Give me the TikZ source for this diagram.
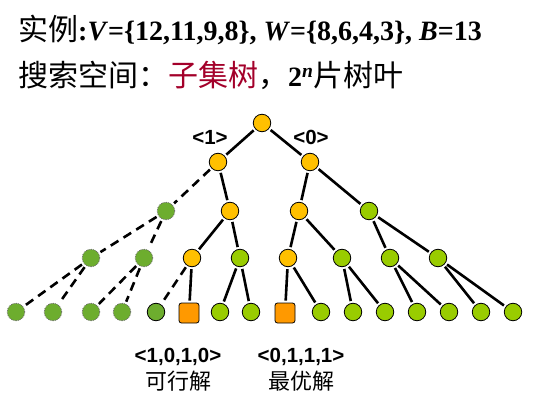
\documentclass[tikz,border=0pt]{standalone}
\usepackage{fontspec}
\setmainfont{Liberation Serif}
\setsansfont{Liberation Sans}
\newfontfamily\cjk{Noto Sans CJK SC}
\definecolor{nodeY}{HTML}{FFC000}
\definecolor{nodeG}{HTML}{99CC00}
\definecolor{nodeD}{HTML}{6DAD2E}
\definecolor{nodeO}{HTML}{FF9900}
\definecolor{cred}{HTML}{A3002A}
\begin{document}
\begin{tikzpicture}[x=1pt,y=-1pt,
  base/.style={circle, draw=black, line width=0.8pt, minimum size=17.5pt, inner sep=0pt},
  yn/.style={base, fill=nodeY},
  gn/.style={base, fill=nodeG},
  dn/.style={base, fill=nodeD, draw=black!60, densely dotted},
  dk/.style={base, fill=nodeD},
  sq/.style={rectangle, rounded corners=2.5pt, draw=black, line width=0.8pt, fill=nodeO, minimum size=20pt, inner sep=0pt},
  edge/.style={line width=2.6pt, shorten <=2pt, shorten >=2pt},
  dedge/.style={edge, dash pattern=on 9pt off 6pt},
  lab/.style={font=\sffamily\bfseries\fontsize{20.5}{22}\selectfont, inner sep=0pt},
  clab/.style={font=\cjk\fontsize{22}{24}\selectfont, inner sep=0pt},
  ttl/.style={anchor=base west, inner sep=0pt, font=\fontsize{28}{30}\selectfont},
  big/.style={font=\cjk\fontsize{30}{32}\selectfont}
]
\useasboundingbox (0,0) rectangle (548,403);
% title
\node[ttl] (t1) at (18,41)
  {{\cjk\fontsize{30}{32}\selectfont 实例}\textbf{:\textit{V}=\{12,11,9,8\}, \textit{W}=\{8,6,4,3\}, \textit{B}=13}};
\node[ttl] (t2) at (18,87)
  {{\cjk\fontsize{30}{32}\selectfont 搜索空间：\textcolor{cred}{子集树}，}\textbf{2\textsuperscript{\textit{n}}}{\cjk\fontsize{30}{32}\selectfont 片树叶}};
% nodes
\node[yn] (r) at (262,123) {};
\node[yn] (a) at (218,162) {};
\node[yn] (b) at (310,162) {};
\node[dn] (a1) at (166,211) {};
\node[yn] (a0) at (230,211) {};
\node[yn] (b1) at (299,211) {};
\node[gn] (b0) at (369,211) {};
\node[dn] (c1) at (91,258) {};
\node[dn] (c2) at (144,258) {};
\node[yn] (c3) at (192,258) {};
\node[gn] (c4) at (240,258) {};
\node[yn] (c5) at (288,258) {};
\node[gn] (c6) at (342,258) {};
\node[gn] (c7) at (390,258) {};
\node[gn] (c8) at (438,258) {};
\node[dn] (l1) at (16,312) {};
\node[dn] (l2) at (53,312) {};
\node[dn] (l3) at (91,312) {};
\node[dn] (l4) at (122,312) {};
\node[dk] (l5) at (156,312) {};
\node[sq] (l6) at (189,313) {};
\node[gn] (l7) at (220,312) {};
\node[gn] (l8) at (251,312) {};
\node[sq] (l9) at (285,313) {};
\node[gn] (l10) at (321,312) {};
\node[gn] (l11) at (353,312) {};
\node[gn] (l12) at (385,312) {};
\node[gn] (l13) at (417,312) {};
\node[gn] (l14) at (449,312) {};
\node[gn] (l15) at (481,312) {};
\node[gn] (l16) at (513,312) {};
% edges
\draw[edge] (r) -- (a);
\draw[edge] (r) -- (b);
\draw[dedge] (a) -- (a1);
\draw[edge] (a) -- (a0);
\draw[edge] (b) -- (b1);
\draw[edge] (b) -- (b0);
\draw[dedge] (a1) -- (c1);
\draw[dedge] (a1) -- (c2);
\draw[edge] (a0) -- (c3);
\draw[edge] (a0) -- (c4);
\draw[edge] (b1) -- (c5);
\draw[edge] (b1) -- (c6);
\draw[edge] (b0) -- (c7);
\draw[edge] (b0) -- (c8);
\draw[dedge] (c1) -- (l1);
\draw[dedge] (c1) -- (l2);
\draw[dedge] (c2) -- (l3);
\draw[dedge] (c2) -- (l4);
\draw[dedge] (c3) -- (l5);
\draw[edge] (c3) -- (l6);
\draw[edge] (c4) -- (l7);
\draw[edge] (c4) -- (l8);
\draw[edge] (c5) -- (l9);
\draw[edge] (c5) -- (l10);
\draw[edge] (c6) -- (l11);
\draw[edge] (c6) -- (l12);
\draw[edge] (c7) -- (l13);
\draw[edge] (c7) -- (l14);
\draw[edge] (c8) -- (l15);
\draw[edge] (c8) -- (l16);
% labels
\node[lab] (la) at (210,137) {<1>};
\node[lab] (lb) at (311,137) {<0>};
\node[lab] (s1) at (178,357) {<1,0,1,0>};
\node[clab] (s1c) at (178,381) {可行解};
\node[lab] (s2) at (301,357) {<0,1,1,1>};
\node[clab] (s2c) at (301,381) {最优解};
\end{tikzpicture}
\end{document}
